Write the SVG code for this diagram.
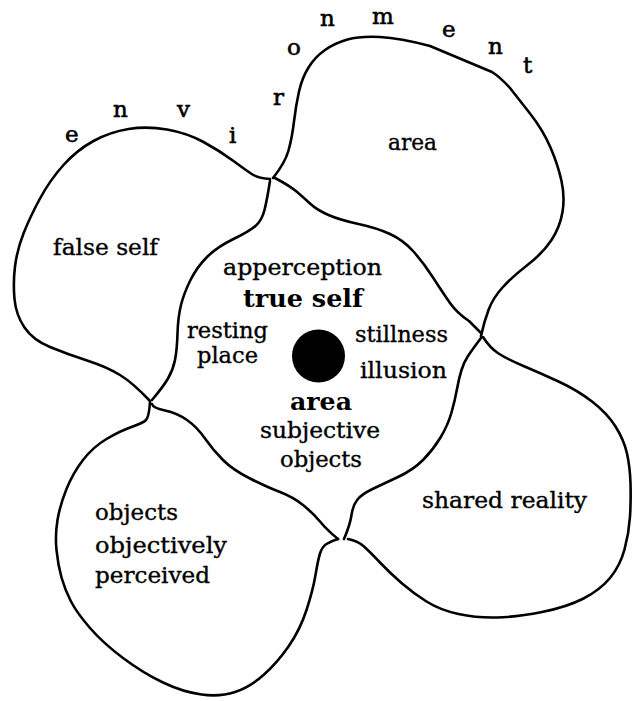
<svg xmlns="http://www.w3.org/2000/svg" width="632" height="701" viewBox="0 0 632 701">
<style>
.ln{fill:none;stroke:#000;stroke-width:2.6;stroke-linecap:round;stroke-linejoin:round}
text{font-family:"DejaVu Serif","Liberation Serif",serif;font-size:22px;fill:#000;stroke:#000;stroke-width:0.35}
.b{font-weight:bold;font-size:24px;stroke-width:0}
.env{font-size:23px;stroke-width:0.6}
</style>
<rect width="632" height="701" fill="#fff"/>
<g id="environment-label" class="env">
<text class="env" x="65" y="142">e</text>
<text class="env" x="113" y="117">n</text>
<text class="env" x="177" y="117">v</text>
<text class="env" x="229" y="143">i</text>
<text class="env" x="273" y="105">r</text>
<text class="env" x="287" y="55">o</text>
<text class="env" x="320" y="26">n</text>
<text class="env" x="372" y="24">m</text>
<text class="env" x="442" y="37">e</text>
<text class="env" x="488" y="54">n</text>
<text class="env" x="523" y="73">t</text>
</g>
<g id="false-self">
<path class="ln" d="M 270,179 Q 258,178 252.5,174.5 Q 247,171 233.5,161 Q 220,151 203.5,142 Q 187,133 167,129.5 Q 147,126 128.5,129 Q 110,132 93.5,141 Q 77,150 63.5,165 Q 50,180 40,198.5 Q 30,217 23.5,233.5 Q 17,250 15,266.5 Q 13,283 14.5,299 Q 16,315 24.5,327.5 Q 33,340 50,347 Q 67,354 87,360.5 Q 107,367 120,375 Q 133,383 150,401"/>
<text x="53" y="255" textLength="105" lengthAdjust="spacingAndGlyphs">false self</text>
</g>
<g id="area-top">
<path class="ln" d="M 273,178 Q 285,163 288.5,150.5 Q 292,138 294,121.5 Q 296,105 299,91.5 Q 302,78 308.5,67.5 Q 315,57 325,50 Q 335,43 347.5,39.5 Q 360,36 380,37 Q 400,38 430,46 L 492,72 Q 500,77 510,88 Q 517,97 530,113.5 Q 543,130 550.5,147.5 Q 558,165 561.5,181 Q 565,197 562.5,212 Q 560,227 551.5,240 Q 543,253 527.5,265 Q 512,277 502.5,287.5 Q 493,298 488.5,310 Q 484,322 481,336"/>
<text x="388" y="150" textLength="49" lengthAdjust="spacingAndGlyphs">area</text>
</g>
<g id="shared-reality">
<path class="ln" d="M 483,337 Q 490,348 498.5,353.5 Q 507,359 523.5,366 Q 540,373 558.5,381.5 Q 577,390 592,401.5 Q 607,413 615.5,426.5 Q 624,440 627,453.5 Q 630,467 630.5,483.5 Q 631,500 630,516.5 Q 629,533 624.5,549.5 Q 620,566 610,578 Q 600,590 583.5,598.5 Q 567,607 542,612 Q 517,617 497,617.5 Q 477,618 458.5,614 Q 440,610 426.5,601.5 Q 413,593 401.5,583 Q 390,573 380,562.5 Q 370,552 364,546.5 Q 358,541 348,539"/>
<text x="422" y="508" textLength="165" lengthAdjust="spacingAndGlyphs">shared reality</text>
</g>
<g id="objects-objectively-perceived">
<path class="ln" d="M 150,402 Q 149,417 146,420 Q 143,423 131.5,427 Q 120,431 106.5,439 Q 93,447 83,460 Q 73,473 66.5,489 Q 60,505 57.5,520 Q 55,535 56.5,550 Q 58,565 61.5,577.5 Q 65,590 71,601.5 Q 77,613 90,628 Q 103,643 123,658 Q 143,673 163,682.5 Q 183,692 201.5,694.5 Q 220,697 235,692 Q 250,687 263.5,675 Q 277,663 288.5,646.5 Q 300,630 306.5,610 Q 313,590 315.5,575 Q 318,560 320,553.5 Q 322,547 326.5,544 Q 331,541 338,539"/>
<text x="95" y="520" textLength="83" lengthAdjust="spacingAndGlyphs">objects</text>
<text x="95" y="553" textLength="132" lengthAdjust="spacingAndGlyphs">objectively</text>
<text x="95" y="583" textLength="115" lengthAdjust="spacingAndGlyphs">perceived</text>
</g>
<g id="true-self">
<path class="ln" d="M 275,178 Q 290,186 296.5,191.5 Q 303,197 310,203.5 Q 317,210 328.5,215 Q 340,220 358.5,224 Q 377,228 390,234 Q 403,240 413,251 Q 423,262 433,277.5 Q 443,293 450,303 Q 457,313 469,321 L 481,333"/>
<path class="ln" d="M 481,338 Q 472,350 468,356 Q 464,362 461.5,370 Q 459,378 457,389 Q 455,400 451.5,412.5 Q 448,425 440.5,437.5 Q 433,450 423,460 Q 413,470 398,477 Q 383,484 372.5,489 Q 362,494 357.5,499.5 Q 353,505 351.5,515 Q 350,525 344,539"/>
<path class="ln" d="M 152,404 Q 153,408 165,410.5 Q 177,413 187,420 Q 197,427 205,438.5 Q 213,450 223,460 Q 233,470 250,478.5 Q 267,487 280,492 Q 293,497 303,505 Q 313,513 320,521.5 Q 327,530 338,539"/>
<path class="ln" d="M 270,181 Q 267,200 264.5,210 Q 262,220 256,225.5 Q 250,231 233.5,239 Q 217,247 207,257 Q 197,267 190.5,280 Q 184,293 181,305 Q 178,317 177.5,333.5 Q 177,350 175,360 Q 173,370 168,378.5 Q 163,387 152,400"/>
<ellipse cx="318.5" cy="356" rx="26.5" ry="26.5" fill="#000"/>
<text x="223" y="275" textLength="159" lengthAdjust="spacingAndGlyphs">apperception</text>
<text class="b" x="243" y="307" textLength="120" lengthAdjust="spacingAndGlyphs">true self</text>
<text x="187" y="338" textLength="81" lengthAdjust="spacingAndGlyphs">resting</text>
<text x="197" y="363" textLength="61" lengthAdjust="spacingAndGlyphs">place</text>
<text x="355" y="342" textLength="93" lengthAdjust="spacingAndGlyphs">stillness</text>
<text x="360" y="378" textLength="87" lengthAdjust="spacingAndGlyphs">illusion</text>
<text class="b" x="290" y="410" textLength="62" lengthAdjust="spacingAndGlyphs">area</text>
<text x="260" y="438" textLength="120" lengthAdjust="spacingAndGlyphs">subjective</text>
<text x="280" y="467" textLength="82" lengthAdjust="spacingAndGlyphs">objects</text>
</g>
</svg>
